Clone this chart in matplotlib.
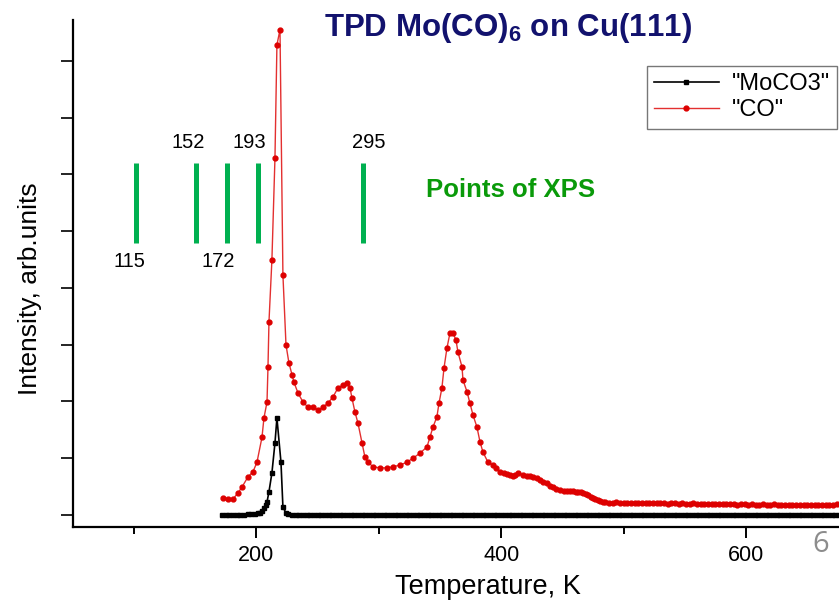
import matplotlib
matplotlib.use('Agg')
import matplotlib.pyplot as plt

plt.rcParams['font.family'] = ['Liberation Sans', 'DejaVu Sans']
plt.rcParams['mathtext.fontset'] = 'custom'
plt.rcParams['mathtext.rm'] = 'Liberation Sans'
plt.rcParams['mathtext.bf'] = 'Liberation Sans:bold'

# ---- data (temperature in K, intensity in arb. units) ----
co_T = [172.7, 176.5, 180.9, 185.0, 188.2, 193.1, 197.2, 200.5, 204.6, 206.2,
        208.7, 209.5, 210.3, 212.7, 215.2, 216.8, 219.3, 221.7, 224.2, 226.6,
        229.1, 230.7, 234.0, 238.1, 242.2, 246.2, 250.3, 254.4, 258.5, 262.6,
        266.7, 270.8, 274.0, 276.5, 278.1, 280.6, 283.0, 286.3, 288.7, 291.2,
        295.3, 301.0, 306.7, 311.6, 317.3, 323.0, 327.9, 333.7, 339.4, 341.8,
        344.3, 347.5, 349.2, 351.6, 353.3, 355.7, 358.2, 360.6, 363.1, 364.7,
        368.0, 368.8, 372.1, 374.5, 377.0, 380.2, 382.7, 385.1, 389.2, 393.3,
        396.0, 399.0, 402.0, 404.7, 407.0, 409.6, 411.5, 413.7, 417.5, 421.1,
        423.5, 426.0, 429.0, 431.7, 434.5, 437.4, 440.0, 442.3, 445.0, 448.0,
        451.0, 453.8, 456.0, 458.7, 461.0, 463.0, 465.0, 467.0, 469.0, 471.0,
        473.0, 475.0, 477.0, 479.0, 481.0, 483.0]
co_I = [0.30, 0.29, 0.28, 0.39, 0.49, 0.67, 0.76, 0.93, 1.37, 1.71,
        1.99, 2.61, 3.40, 4.49, 6.29, 8.28, 8.55, 4.23, 3.00, 2.68,
        2.47, 2.34, 2.15, 1.99, 1.90, 1.90, 1.85, 1.90, 1.97, 2.08,
        2.24, 2.29, 2.33, 2.24, 2.06, 1.81, 1.62, 1.27, 1.02, 0.93,
        0.85, 0.83, 0.83, 0.85, 0.88, 0.93, 1.00, 1.09, 1.20, 1.37,
        1.55, 1.73, 1.97, 2.24, 2.59, 2.94, 3.21, 3.21, 3.08, 2.87,
        2.61, 2.38, 2.17, 1.97, 1.76, 1.55, 1.29, 1.11, 0.93, 0.88,
        0.82, 0.76, 0.74, 0.72, 0.70, 0.69, 0.71, 0.74, 0.71, 0.69,
        0.68, 0.67, 0.65, 0.62, 0.59, 0.56, 0.52, 0.49, 0.46, 0.44,
        0.43, 0.42, 0.43, 0.42, 0.41, 0.41, 0.40, 0.39, 0.37, 0.35,
        0.32, 0.30, 0.28, 0.26, 0.24, 0.23]
co_tail_T = list(range(485, 676, 3))
co_tail_I = [0.23, 0.22, 0.22, 0.23, 0.22, 0.21, 0.22, 0.21, 0.22, 0.21,
             0.21, 0.22, 0.21, 0.21, 0.22, 0.21, 0.21, 0.20, 0.21, 0.21,
             0.20, 0.21, 0.20, 0.20, 0.21, 0.20, 0.19, 0.20, 0.20, 0.19,
             0.19, 0.20, 0.19, 0.19, 0.20, 0.19, 0.18, 0.19, 0.19, 0.18,
             0.19, 0.18, 0.18, 0.19, 0.18, 0.18, 0.19, 0.18, 0.17, 0.18,
             0.18, 0.17, 0.18, 0.17, 0.17, 0.18, 0.17, 0.17, 0.18, 0.17,
             0.17, 0.18, 0.18, 0.19]

mo_T = [172, 175, 178, 181, 184, 187, 190, 193, 196, 199,
        201.5, 203, 204.7, 206.2, 207.5, 208.7, 210.3, 212.7, 215.2, 216.8,
        220.1, 221.7, 224.2, 226.0]
mo_I = [0.0, 0.0, 0.0, 0.0, 0.0, 0.0, 0.0, 0.01, 0.01, 0.02,
        0.03, 0.035, 0.07, 0.12, 0.17, 0.23, 0.41, 0.74, 1.27, 1.71,
        0.93, 0.14, 0.035, 0.01]
mo_base_T = list(range(229, 677, 3))
mo_base_I = [0.0] * len(mo_base_T)   # flat baseline read as 0

xps_labels = ['115', '152', '172', '193', '295']
xps_bar_T = [102, 151, 176, 201, 287]        # where the bars are drawn
xps_label_T = [96, 144, 169, 194, 292]       # where the numbers are written
xps_label_above = [False, True, False, True, True]

x_major = [200, 400, 600]
x_minor = [100, 300, 500]
y_ticks = [0, 1, 2, 3, 4, 5, 6, 7, 8]

# ---- figure ----
fig = plt.figure(figsize=(8.39, 6.06), dpi=100)
ax = fig.add_axes([73/839, 79/606, 766/839, 507/606])

ax.plot(mo_T + mo_base_T, mo_I + mo_base_I, color='black', lw=1.2,
        marker='s', ms=2.4, label='"MoCO3"', zorder=3)
ax.plot(co_T + co_tail_T, co_I + co_tail_I, color='#e33030', lw=1.0,
        marker='o', ms=3.5, mfc='#dd0000', mec='#dd0000', label='"CO"',
        zorder=4)

ax.set_xlim(50.2, 676)
ax.set_ylim(-0.211, 8.72)

ax.spines['top'].set_visible(False)
ax.spines['right'].set_visible(False)
for s in ('left', 'bottom'):
    ax.spines[s].set_linewidth(1.6)

ax.set_xticks(x_major)
ax.set_xticks(x_minor, minor=True)
ax.set_yticks(y_ticks)
ax.set_yticklabels([])
ax.tick_params(axis='x', which='major', direction='out', length=8, width=1.4,
               labelsize=15.5, pad=5)
ax.tick_params(axis='x', which='minor', direction='out', length=5, width=1.4)
ax.tick_params(axis='y', which='major', direction='out', length=8.5, width=1.2)

ax.set_xlabel('Temperature, K', fontsize=19.5)
ax.xaxis.set_label_coords(0.542, -0.093)
ax.set_ylabel('Intensity, arb.units', fontsize=19)
ax.yaxis.set_label_coords(-0.040, 0.471)

# XPS markers
ax.vlines(xps_bar_T, 4.79, 6.20, color='#00b050', lw=3.6)
for lab, xt, above in zip(xps_labels, xps_label_T, xps_label_above):
    ax.text(xt, 6.57 if above else 4.46, lab, ha='center', va='center',
            fontsize=14.5, color='black')

fig.text(511/839, 1 - 190/606, 'Points of XPS', ha='center', va='center',
         fontsize=18.5, fontweight='bold', color='#0a9a0a')
fig.text(508/839, 1 - 28/606, r'TPD Mo(CO)$_\mathbf{6}$ on Cu(111)',
         ha='center', va='center', fontsize=22.5, fontweight='bold',
         color='#12126e')
fig.text(821/839, 1 - 545/606, '6', ha='center', va='center', fontsize=21,
         color='#8c8c8c', family=['Open Sans', 'DejaVu Sans'])

leg = ax.legend(loc='upper left', bbox_to_anchor=(0.749, 0.909),
                fontsize=17, frameon=True, fancybox=False, edgecolor='#555555',
                handlelength=2.75, handletextpad=0.55, labelspacing=0.18,
                borderpad=0.3, borderaxespad=0)
leg.get_frame().set_linewidth(1.0)

fig.savefig('out.png', dpi=100)
